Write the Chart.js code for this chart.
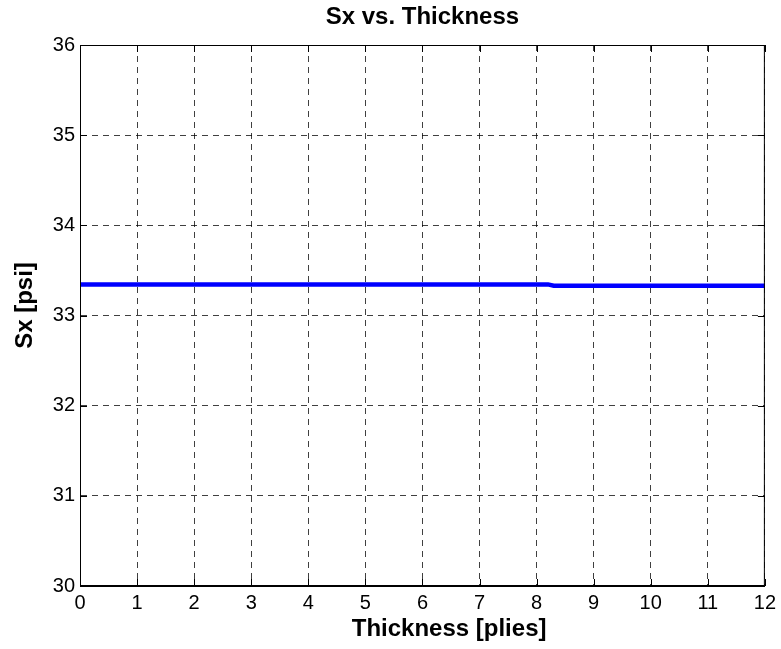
<!DOCTYPE html>
<html>
<head>
<meta charset="utf-8">
<script src="https://cdn.jsdelivr.net/npm/chart.js@4/dist/chart.umd.min.js"></script>
<style>
  body { margin: 0; background: #fff; }
  canvas { display: block; }
</style>
</head>
<body>
<canvas id="sxChart" width="781" height="649"></canvas>
<script>
// values
const thickness = [0, 8.2, 8.3, 12];
const sxValues = [33.345, 33.345, 33.33, 33.33];
const xTicks = [0, 1, 2, 3, 4, 5, 6, 7, 8, 9, 10, 11, 12];
const yTicks = [30, 31, 32, 33, 34, 35, 36];

const FONT = "'Liberation Sans', Arial, Helvetica, sans-serif";

// matlab-like box with inward tick marks
const boxPlugin = {
    id: 'box',
    afterDraw(chart) {
        const { ctx, chartArea: a, scales } = chart;
        ctx.save();
        ctx.strokeStyle = '#000';
        ctx.lineWidth = 1;
        ctx.strokeRect(a.left + 0.5, a.top + 0.5, a.right - a.left - 1, a.bottom - a.top - 1);
        ctx.beginPath();
        xTicks.forEach(v => {
            const x = Math.round(scales.x.getPixelForValue(v)) + 0.5;
            ctx.moveTo(x, a.bottom); ctx.lineTo(x, a.bottom - 7);
            ctx.moveTo(x, a.top); ctx.lineTo(x, a.top + 7);
        });
        yTicks.forEach(v => {
            const y = Math.round(scales.y.getPixelForValue(v)) + 0.5;
            ctx.moveTo(a.left, y); ctx.lineTo(a.left + 7, y);
            ctx.moveTo(a.right, y); ctx.lineTo(a.right - 7, y);
        });
        ctx.stroke();
        ctx.restore();
    }
};

const ctx = document.getElementById('sxChart').getContext('2d');
const chart = new Chart(ctx, {
    type: 'scatter',
    data: {
        datasets: [{
            data: thickness.map((t, i) => ({ x: t, y: sxValues[i] })),
            showLine: true,
            borderColor: '#0000ff',
            borderWidth: 4.5,
            pointRadius: 0,
            fill: false
        }]
    },
    options: {
        responsive: false,
        animation: false,
        layout: { padding: { top: 0, right: 15, bottom: 0, left: 0 } },
        plugins: {
            legend: { display: false },
            tooltip: { enabled: false },
            title: {
                display: true,
                fullSize: false,
                text: 'Sx vs. Thickness',
                color: '#000',
                font: { family: FONT, size: 24, weight: 'bold' },
                padding: { top: 2.9, bottom: 13.3 }
            }
        },
        scales: {
            x: {
                type: 'linear',
                min: 0,
                max: 12,
                afterBuildTicks: s => { s.ticks = xTicks.map(v => ({ value: v })); },
                afterFit: s => { s.height = 63; },
                ticks: { color: '#000', padding: 5, maxRotation: 0, font: { family: FONT, size: 20 } },
                grid: { color: 'rgba(0,0,0,0.75)', lineWidth: 1, drawTicks: false },
                border: { display: true, color: '#000', dash: [6, 5] },
                title: {
                    display: true,
                    // leading spaces push the label right like the original
                    text: '        Thickness [plies]',
                    color: '#000',
                    font: { family: FONT, size: 24, weight: 'bold' },
                    padding: { top: 0, bottom: 5.6 }
                }
            },
            y: {
                type: 'linear',
                min: 30,
                max: 36,
                afterBuildTicks: s => { s.ticks = yTicks.map(v => ({ value: v })); },
                afterFit: s => { s.width = 80; },
                ticks: { color: '#000', padding: 5, font: { family: FONT, size: 20 } },
                grid: { color: 'rgba(0,0,0,0.75)', lineWidth: 1, drawTicks: false },
                border: { display: true, color: '#000', dash: [6, 5] },
                title: {
                    display: true,
                    text: '   Sx [psi]',
                    color: '#000',
                    font: { family: FONT, size: 24, weight: 'bold' },
                    padding: { top: 10.6, bottom: 0 }
                }
            }
        }
    },
    plugins: [boxPlugin]
});
</script>
</body>
</html>
